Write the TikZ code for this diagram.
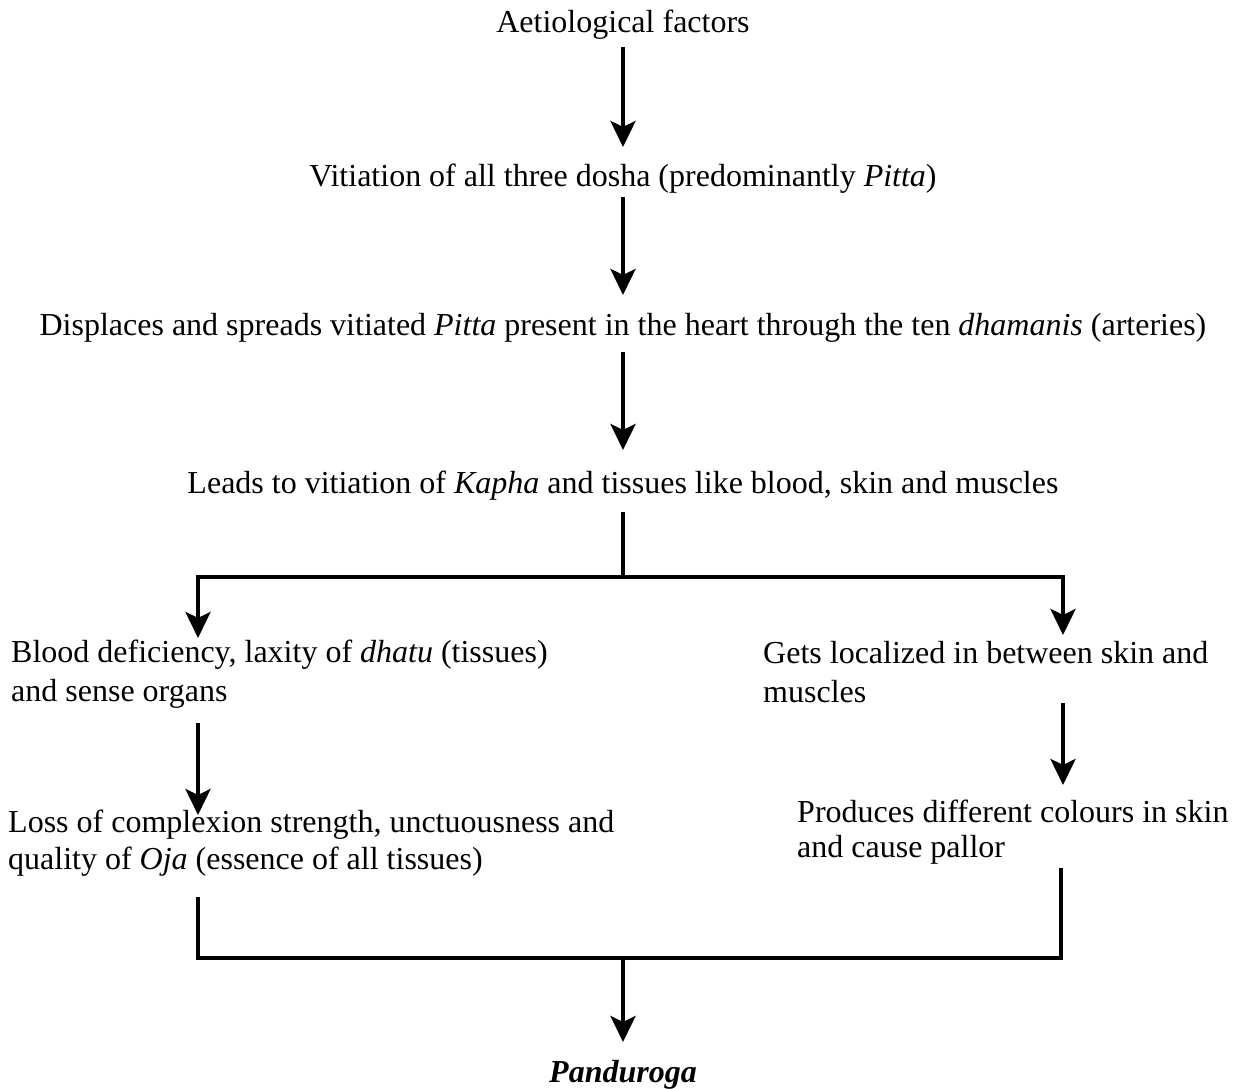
\documentclass[tikz,border=0pt]{standalone}
\usepackage{fontspec}
\setmainfont{Liberation Serif}
\usetikzlibrary{arrows.meta}
\begin{document}
\begin{tikzpicture}[x=1pt,y=-1pt,
  txt/.style={inner sep=0pt, font=\fontsize{32}{#1}\selectfont},
  txt/.default=39,
  one/.style={txt, anchor=base},
  blk/.style={txt=#1, align=left, anchor=base west},
  blk/.default=39,
  link/.style={line width=4.5pt},
  arr/.style={link, -{Stealth[length=26pt,width=25pt,inset=6pt]}}]
\useasboundingbox (0,0) rectangle (1245,1089);

% main chain (anchored on the text baseline)
\node[one] (aet)  at (623,33)  {Aetiological factors};
\node[one] (vit)  at (623,186) {Vitiation of all three dosha (predominantly \textit{Pitta})};
\node[one] (dis)  at (623,335) {Displaces and spreads vitiated \textit{Pitta} present in the heart through the ten \textit{dhamanis} (arteries)};
\node[one] (lead) at (623,493) {Leads to vitiation of \textit{Kapha} and tissues like blood, skin and muscles};

% two branches (anchored on the baseline of the last line)
\node[blk=39] (blood) at (11,701)  {Blood deficiency, laxity of \textit{dhatu} (tissues)\\and sense organs};
\node[blk=39] (gets)  at (763,702) {Gets localized in between skin and\\muscles};
\node[blk=37] (loss)  at (8,869)   {Loss of complexion strength, unctuousness and\\quality of \textit{Oja} (essence of all tissues)};
\node[blk=35] (prod)  at (797,857) {Produces different colours in skin\\and cause pallor};

% outcome
\node[one] (pand) at (623,1082) {\textbf{\textit{Panduroga}}};

% junction points
\coordinate (jc) at (623,577);
\coordinate (jl) at (198,577);
\coordinate (jr) at (1063,577);
\coordinate (bl) at (198,958);
\coordinate (br) at (1061,958);
\coordinate (bc) at (623,958);

\draw[arr] ([yshift=-14pt]aet.base) -- ([yshift=39pt]vit.base);
\draw[arr] ([yshift=-11pt]vit.base) -- ([yshift=40pt]dis.base);
\draw[arr] ([yshift=-17pt]dis.base) -- ([yshift=43pt]lead.base);
\draw[link] ([yshift=-19pt]lead.base) -- (jc);

\draw[arr] (jc) -- (jl) -- ([yshift=63pt]blood.base -| jl);
\draw[arr] (jc) -- (jr) -- ([yshift=67pt]gets.base -| jr);

\draw[arr] ([yshift=-22pt]blood.base -| jl) -- ([yshift=54pt]loss.base -| jl);
\draw[arr] ([yshift=-1pt]gets.base -| jr) -- ([yshift=72pt]prod.base -| jr);

\draw[link] ([yshift=-28pt]loss.base -| bl) -- (bl) -- (br) -- ([yshift=-11pt]prod.base -| br);
\draw[arr] (bc) -- ([yshift=40pt]pand.base);
\end{tikzpicture}
\end{document}
